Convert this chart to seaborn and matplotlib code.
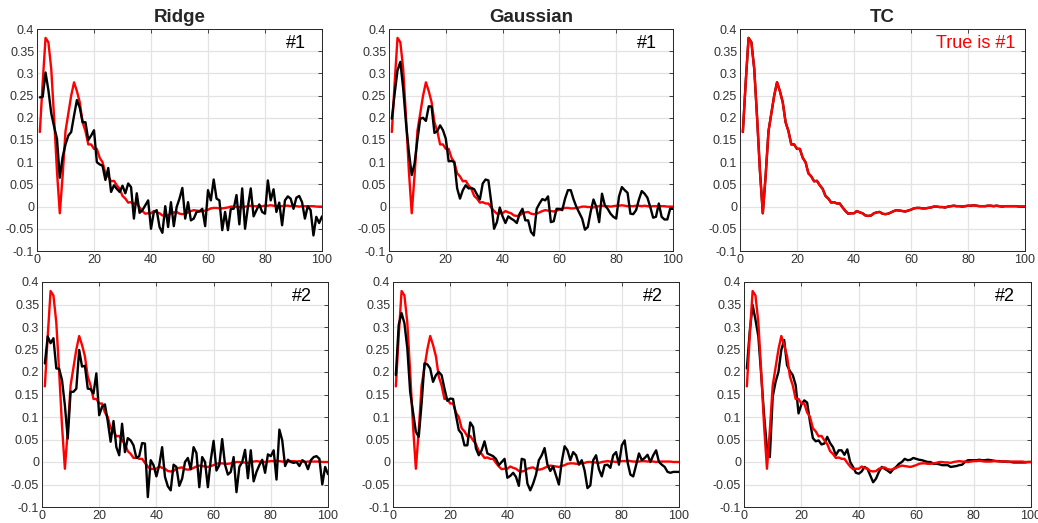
import numpy as np
import seaborn as sns
import matplotlib.pyplot as plt

# =========================
# Data (impulse response coefficients, lags 1..100)
# =========================
lags = list(range(1, 101))

true_g = [
    0.168, 0.28, 0.38, 0.37, 0.31, 0.2, 0.08, -0.015, 0.07, 0.17,
    0.21, 0.25, 0.28, 0.26, 0.235, 0.19, 0.17, 0.14, 0.14, 0.13,
    0.13, 0.11, 0.1, 0.075, 0.068, 0.057, 0.058, 0.048, 0.04, 0.024,
    0.018, 0.009, 0.01, 0.007, 0.007, -0.002, -0.01, -0.016, -0.015, -0.015,
    -0.01, -0.013, -0.015, -0.02, -0.021, -0.02, -0.015, -0.013, -0.012, -0.016,
    -0.017, -0.016, -0.013, -0.01, -0.008, -0.009, -0.01, -0.011, -0.009, -0.007,
    -0.004, -0.003, -0.003, -0.004, -0.004, -0.003, -0.002, 0.0, 0.0, -0.001,
    -0.001, -0.002, 0.0, 0.001, 0.002, 0.001, 0.001, 0.0, 0.001, 0.002,
    0.002, 0.003, 0.002, 0.001, 0.001, 0.001, 0.002, 0.002, 0.001, 0.002,
    0.001, 0.0, 0.001, 0.001, 0.001, 0.001, 0.001, 0.0, 0.0, 0.0,
]

ridge_1 = [
    0.246, 0.247, 0.302, 0.262, 0.21, 0.18, 0.153, 0.065, 0.112, 0.14,
    0.16, 0.168, 0.205, 0.24, 0.223, 0.19, 0.19, 0.15, 0.16, 0.172,
    0.1, 0.095, 0.092, 0.06, 0.087, 0.033, 0.048, 0.04, 0.033, 0.047,
    0.03, 0.052, 0.044, -0.027, 0.03, -0.014, -0.008, 0.003, 0.014, -0.05,
    -0.012, -0.008, -0.046, -0.059, 0.001, -0.046, 0.01, -0.044, -0.001, 0.018,
    0.042, -0.027, 0.01, -0.031, -0.027, -0.012, -0.011, -0.005, -0.044, 0.037,
    0.014, 0.061, 0.018, 0.014, -0.053, -0.012, -0.053, -0.005, -0.005, 0.026,
    -0.04, 0.041, -0.05, -0.001, 0.041, -0.022, -0.008, 0.005, -0.012, -0.016,
    0.059, 0.014, 0.039, -0.012, 0.009, -0.042, 0.014, 0.023, 0.018, -0.005,
    0.02, 0.024, 0.01, -0.027, 0.001, -0.008, -0.065, -0.023, -0.037, -0.022,
]

gauss_1 = [
    0.198, 0.255, 0.307, 0.326, 0.266, 0.187, 0.123, 0.071, 0.097, 0.15,
    0.198, 0.2, 0.193, 0.226, 0.225, 0.166, 0.17, 0.183, 0.172, 0.153,
    0.102, 0.103, 0.1, 0.041, 0.018, 0.037, 0.048, 0.041, 0.042, 0.039,
    0.027, 0.016, 0.052, 0.061, 0.059, 0.01, -0.05, -0.035, -0.002, -0.022,
    -0.037, -0.022, -0.027, -0.031, -0.037, -0.016, -0.005, -0.031, -0.031, -0.057,
    -0.065, -0.005, 0.007, 0.017, 0.014, 0.023, -0.035, -0.033, -0.005, -0.005,
    -0.008, 0.018, 0.037, 0.037, 0.016, -0.001, -0.014, -0.027, -0.052, -0.046,
    -0.012, 0.016, -0.001, -0.035, 0.029, 0.003, -0.005, -0.016, -0.023, -0.027,
    0.023, 0.044, 0.037, 0.031, -0.016, -0.017, -0.008, 0.016, 0.035, 0.029,
    0.02, -0.001, -0.025, -0.023, 0.007, -0.023, -0.029, -0.029, -0.005, -0.005,
]

# TC estimate on data set #1 lies on top of the true response
tc_1 = [
    0.168, 0.28, 0.38, 0.37, 0.31, 0.2, 0.08, -0.015, 0.07, 0.17,
    0.21, 0.25, 0.28, 0.26, 0.235, 0.19, 0.17, 0.14, 0.14, 0.13,
    0.13, 0.11, 0.1, 0.075, 0.068, 0.057, 0.058, 0.048, 0.04, 0.024,
    0.018, 0.009, 0.01, 0.007, 0.007, -0.002, -0.01, -0.016, -0.015, -0.015,
    -0.01, -0.013, -0.015, -0.02, -0.021, -0.02, -0.015, -0.013, -0.012, -0.016,
    -0.017, -0.016, -0.013, -0.01, -0.008, -0.009, -0.01, -0.011, -0.009, -0.007,
    -0.004, -0.003, -0.003, -0.004, -0.004, -0.003, -0.002, 0.0, 0.0, -0.001,
    -0.001, -0.002, 0.0, 0.001, 0.002, 0.001, 0.001, 0.0, 0.001, 0.002,
    0.002, 0.003, 0.002, 0.001, 0.001, 0.001, 0.002, 0.002, 0.001, 0.002,
    0.001, 0.0, 0.001, 0.001, 0.001, 0.001, 0.001, 0.0, 0.0, 0.0,
]

ridge_2 = [
    0.219, 0.279, 0.264, 0.275, 0.208, 0.207, 0.182, 0.126, 0.052, 0.156,
    0.156, 0.163, 0.249, 0.212, 0.214, 0.163, 0.162, 0.152, 0.197, 0.104,
    0.123, 0.128, 0.09, 0.045, 0.091, 0.033, 0.015, 0.085, 0.022, 0.053,
    0.048, 0.037, 0.009, 0.013, 0.042, 0.041, -0.078, 0.004, -0.007, -0.032,
    -0.007, 0.033, -0.033, -0.054, -0.063, -0.006, -0.011, -0.053, -0.037, 0.0,
    0.009, -0.016, 0.033, 0.02, -0.056, 0.011, 0.0, -0.056, 0.004, 0.047,
    -0.019, -0.007, 0.051, -0.006, -0.028, -0.022, 0.011, -0.067, -0.011, 0.0,
    0.027, -0.036, 0.026, -0.043, -0.022, -0.007, 0.005, -0.024, 0.017, 0.013,
    0.026, -0.039, 0.072, 0.048, -0.009, 0.005, 0.0, -0.002, 0.0, -0.009,
    0.004, 0.0, -0.016, 0.004, 0.011, 0.013, 0.007, -0.05, -0.011, -0.027,
]

gauss_2 = [
    0.193, 0.305, 0.331, 0.308, 0.253, 0.156, 0.111, 0.067, 0.056, 0.13,
    0.219, 0.217, 0.208, 0.178, 0.193, 0.2, 0.193, 0.163, 0.136, 0.141,
    0.14, 0.104, 0.071, 0.063, 0.037, 0.037, 0.088, 0.078, 0.03, 0.015,
    0.026, 0.046, 0.019, 0.016, 0.013, 0.007, -0.007, 0.0, 0.007, -0.035,
    -0.031, -0.024, -0.033, -0.053, 0.007, 0.005, -0.048, -0.063, -0.048, -0.028,
    0.004, 0.015, 0.031, -0.006, -0.02, -0.01, -0.03, -0.05, 0.0, 0.035,
    0.026, 0.004, 0.022, 0.015, -0.006, 0.004, -0.019, -0.058, -0.052, 0.004,
    0.015, -0.016, -0.032, -0.007, -0.006, -0.013, 0.015, 0.022, -0.006, 0.037,
    0.048, 0.0, -0.028, -0.032, -0.007, 0.019, 0.004, 0.009, 0.016, 0.0,
    0.015, 0.026, 0.0, -0.006, -0.011, -0.022, -0.024, -0.022, -0.022, -0.022,
]

tc_2 = [
    0.208, 0.29, 0.349, 0.316, 0.279, 0.193, 0.104, 0.03, 0.011, 0.145,
    0.178, 0.2, 0.249, 0.271, 0.215, 0.202, 0.193, 0.171, 0.108, 0.128,
    0.137, 0.132, 0.089, 0.053, 0.046, 0.048, 0.039, 0.041, 0.056, 0.042,
    0.033, 0.015, 0.026, 0.026, 0.016, 0.028, 0.0, -0.011, -0.024, -0.026,
    -0.021, -0.011, -0.015, -0.03, -0.045, -0.037, -0.022, -0.011, -0.015, -0.019,
    -0.024, -0.016, -0.011, -0.004, 0.0, 0.007, 0.004, 0.005, 0.009, 0.007,
    0.005, 0.004, 0.002, 0.0, 0.0, -0.004, -0.004, -0.005, -0.007, -0.007,
    -0.007, -0.011, -0.01, -0.009, -0.007, -0.006, 0.0, 0.004, 0.004, 0.004,
    0.004, 0.005, 0.004, 0.004, 0.005, 0.004, 0.003, 0.002, 0.002, 0.001,
    0.001, 0.001, 0.0, -0.001, -0.001, -0.001, -0.001, -0.001, 0.0, 0.0,
]

titles = ["Ridge", "Gaussian", "TC"]
tags = [["#1", "#1", "True is #1"], ["#2", "#2", "#2"]]
estimates = [[ridge_1, gauss_1, tc_1], [ridge_2, gauss_2, tc_2]]

xticks = [0, 20, 40, 60, 80, 100]
yticks = [-0.1, -0.05, 0, 0.05, 0.1, 0.15, 0.2, 0.25, 0.3, 0.35, 0.4]
ytick_labels = ["-0.1", "-0.05", "0", "0.05", "0.1", "0.15", "0.2", "0.25", "0.3", "0.35", "0.4"]

# =========================
# Style
# =========================
sns.set_style("white")
plt.rcParams["font.family"] = ["Liberation Sans", "DejaVu Sans"]

W, H = 1038, 523
fig = plt.figure(figsize=(W / 100, H / 100), dpi=100)

# panel boxes in pixels: (left, right, top, bottom)
boxes = [
    [(37, 322, 29, 251), (389, 673, 29, 251), (740, 1025, 29, 251)],
    [(42, 328, 282, 507), (393, 679, 282, 507), (744, 1031, 282, 507)],
]

axis_gray = "#262626"

for r in range(2):
    for c in range(3):
        l, rt, t, b = boxes[r][c]
        ax = fig.add_axes([l / W, 1 - b / H, (rt - l) / W, (b - t) / H])
        est = estimates[r][c]

        if c == 2:
            sns.lineplot(x=lags, y=est, color="black", lw=1.7, ax=ax)
            sns.lineplot(x=lags, y=true_g, color="#ff0000", lw=1.7, ax=ax)
        else:
            sns.lineplot(x=lags, y=true_g, color="#ff0000", lw=1.7, ax=ax)
            sns.lineplot(x=lags, y=est, color="black", lw=1.7, ax=ax)

        ax.set_xlim(0, 100)
        ax.set_ylim(-0.1, 0.4)
        ax.set_xticks(xticks)
        ax.set_yticks(yticks)
        ax.set_yticklabels(ytick_labels)
        ax.grid(True, color="#e3e3e3", lw=0.9)
        ax.set_axisbelow(True)
        ax.tick_params(direction="in", length=3, width=0.6, colors=axis_gray,
                       labelsize=9, labelcolor="#333333", top=True, right=True, pad=2)
        for s in ax.spines.values():
            s.set_color(axis_gray)
            s.set_linewidth(0.7)

        if r == 0:
            ax.set_title(titles[c], fontsize=13.5, fontweight="bold", pad=5)

        tag = tags[r][c]
        tcol = "#ff0000" if tag.startswith("True") else "black"
        xpos = 0.965 if tag.startswith("True") else 0.945
        ax.text(xpos, 0.935, tag, transform=ax.transAxes, ha="right", va="center",
                fontsize=13, color=tcol)

plt.savefig("out.png", dpi=100)
plt.close()
